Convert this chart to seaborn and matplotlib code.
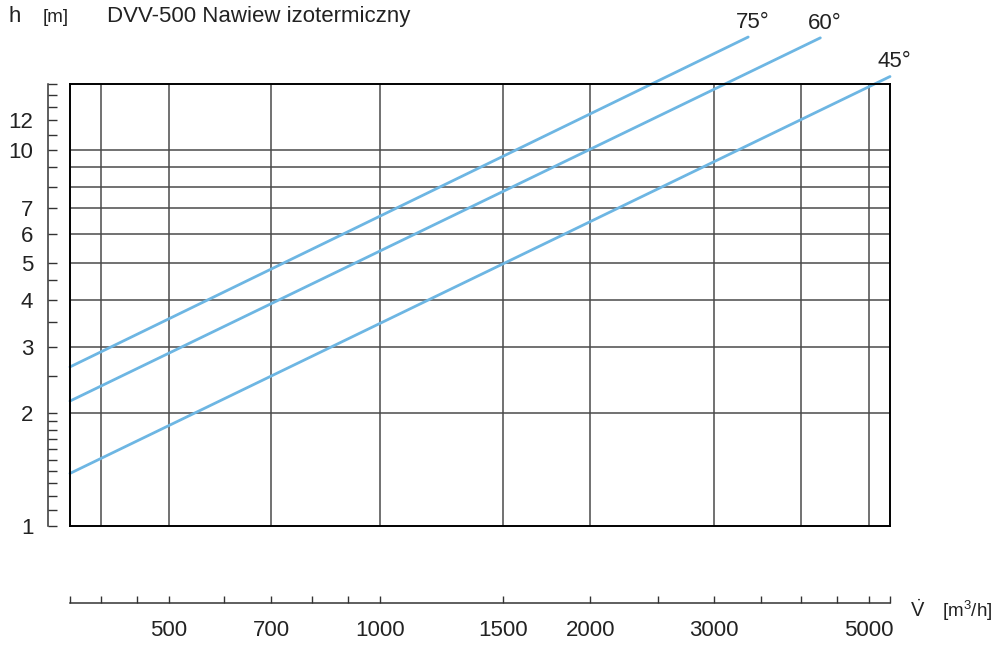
import numpy as np
import pandas as pd
import matplotlib
matplotlib.use('Agg')
import matplotlib.pyplot as plt
import seaborn as sns
from matplotlib import font_manager
from matplotlib.ticker import FixedLocator, FixedFormatter, NullFormatter

# ---------------- data ----------------
angles = ['75°', '60°', '45°']
flow_75 = [361, 3360]
h_75 = [2.65, 20.0]
flow_60 = [361, 4260]
h_60 = [2.15, 19.9]
flow_45 = [361, 5357]
h_45 = [1.38, 15.7]

x_limits = [361, 5357]
y_limits = [1, 15]
x_major = [500, 700, 1000, 1500, 2000, 3000, 5000]
x_labels = ['500', '700', '1000', '1500', '2000', '3000', '5000']
x_minor = [361, 400, 450, 600, 800, 900, 2500, 3500, 4000, 4500, 5357]
x_grid = [400, 500, 700, 1000, 1500, 2000, 3000, 4000, 5000]
y_major = [1, 2, 3, 4, 5, 6, 7, 10, 12]
y_labels = ['1', '2', '3', '4', '5', '6', '7', '10', '12']
y_minor = [1.1, 1.2, 1.3, 1.4, 1.5, 1.6, 1.7, 1.8, 1.9, 2.5, 3.5, 4.5,
           8, 9, 11, 13, 14, 15]
y_grid = [2, 3, 4, 5, 6, 7, 8, 9, 10]

title = 'DVV-500 Nawiew izotermiczny'

# ---------------- style ----------------
sns.set_theme(style='white')
names = {f.name for f in font_manager.fontManager.ttflist}
narrow = 'Liberation Sans Narrow' in names
main_font = 'Liberation Sans Narrow' if narrow else 'Liberation Sans'
plt.rcParams['font.family'] = [main_font, 'DejaVu Sans']
plt.rcParams['mathtext.fontset'] = 'custom'
plt.rcParams['mathtext.rm'] = main_font
plt.rcParams['mathtext.it'] = main_font

line_color = '#6db6e3'
grid_color = '#4a4a4a'
text_color = '#222222'
FS = 17.3 if narrow else 16.0
FS_S = 14.5 if narrow else 13.5

df = pd.concat([
    pd.DataFrame({'flow': flow_75, 'h': h_75, 'angle': angles[0]}),
    pd.DataFrame({'flow': flow_60, 'h': h_60, 'angle': angles[1]}),
    pd.DataFrame({'flow': flow_45, 'h': h_45, 'angle': angles[2]}),
], ignore_index=True)

fig = plt.figure(figsize=(10, 6.46), dpi=100)
rect = [0.070, 0.1858, 0.820, 0.6842]
ax = fig.add_axes(rect)
ax.set_facecolor('none')
ax.set_xscale('log')
ax.set_yscale('log')
ax.set_xlim(x_limits)
ax.set_ylim(y_limits)

# grid
for gx in x_grid:
    ax.axvline(gx, color=grid_color, lw=1.1, zorder=1)
for gy in y_grid:
    ax.axhline(gy, color=grid_color, lw=1.1, zorder=1)

sns.lineplot(data=df, x='flow', y='h', hue='angle',
             palette={a: line_color for a in angles}, legend=False,
             estimator=None, linewidth=2.0, ax=ax, zorder=3)
for ln in ax.lines:
    ln.set_clip_on(False) if ln.get_linewidth() == 2.0 else None

ax.set_xlim(x_limits)
ax.set_ylim(y_limits)
ax.set_xlabel('')
ax.set_ylabel('')

# angle labels at line ends
for a, fx, hy in zip(angles, [flow_75, flow_60, flow_45], [h_75, h_60, h_45]):
    ax.annotate(a, xy=(fx[-1], hy[-1]), xytext=(3, 3), textcoords='offset points',
                ha='center', va='bottom', fontsize=FS, color=text_color,
                annotation_clip=False)

# axes spines
for s in ['top', 'right']:
    ax.spines[s].set_visible(False)
ax.spines['left'].set_position(('outward', 15.6))
ax.spines['bottom'].set_position(('outward', 55.4))
for s in ['left', 'bottom']:
    ax.spines[s].set_color('#333333')
    ax.spines[s].set_linewidth(1.1)

ax.xaxis.set_major_locator(FixedLocator(x_major))
ax.xaxis.set_major_formatter(FixedFormatter(x_labels))
ax.xaxis.set_minor_locator(FixedLocator(x_minor))
ax.xaxis.set_minor_formatter(NullFormatter())
ax.yaxis.set_major_locator(FixedLocator(y_major))
ax.yaxis.set_major_formatter(FixedFormatter(y_labels))
ax.yaxis.set_minor_locator(FixedLocator(y_minor))
ax.yaxis.set_minor_formatter(NullFormatter())

ax.tick_params(axis='x', which='both', bottom=True, top=False, direction='in',
               length=5, width=1.0, color='#333333', pad=12.5,
               labelsize=FS, labelcolor=text_color)
ax.tick_params(axis='y', which='both', left=True, right=False, direction='in',
               length=6.5, width=1.0, color='#333333', pad=10.8,
               labelsize=FS, labelcolor=text_color)

# frame (plot box)
fr = fig.add_axes(rect)
fr.set_facecolor('none')
fr.set_xticks([])
fr.set_yticks([])
for s in fr.spines.values():
    s.set_visible(True)
    s.set_color('black')
    s.set_linewidth(1.4)

# header texts
base = 1 - 21.7 / 646
fig.text(8 / 1000, base, 'h', fontsize=FS, va='baseline', ha='left', color=text_color)
fig.text(43 / 1000, base, '[m]', fontsize=FS_S, va='baseline', ha='left', color=text_color)
fig.text(107 / 1000, base, title, fontsize=FS, va='baseline', ha='left', color=text_color)

# x axis label
xb = 1 - 616.7 / 646
fig.text(910 / 1000, xb, r'$\dot{\mathrm{V}}$', fontsize=FS_S + 1, va='baseline', ha='left', color=text_color)
fig.text(942 / 1000, xb, '[m$^3$/h]', fontsize=FS_S, va='baseline', ha='left', color=text_color)

fig.savefig('out.png', dpi=100, facecolor='white')
